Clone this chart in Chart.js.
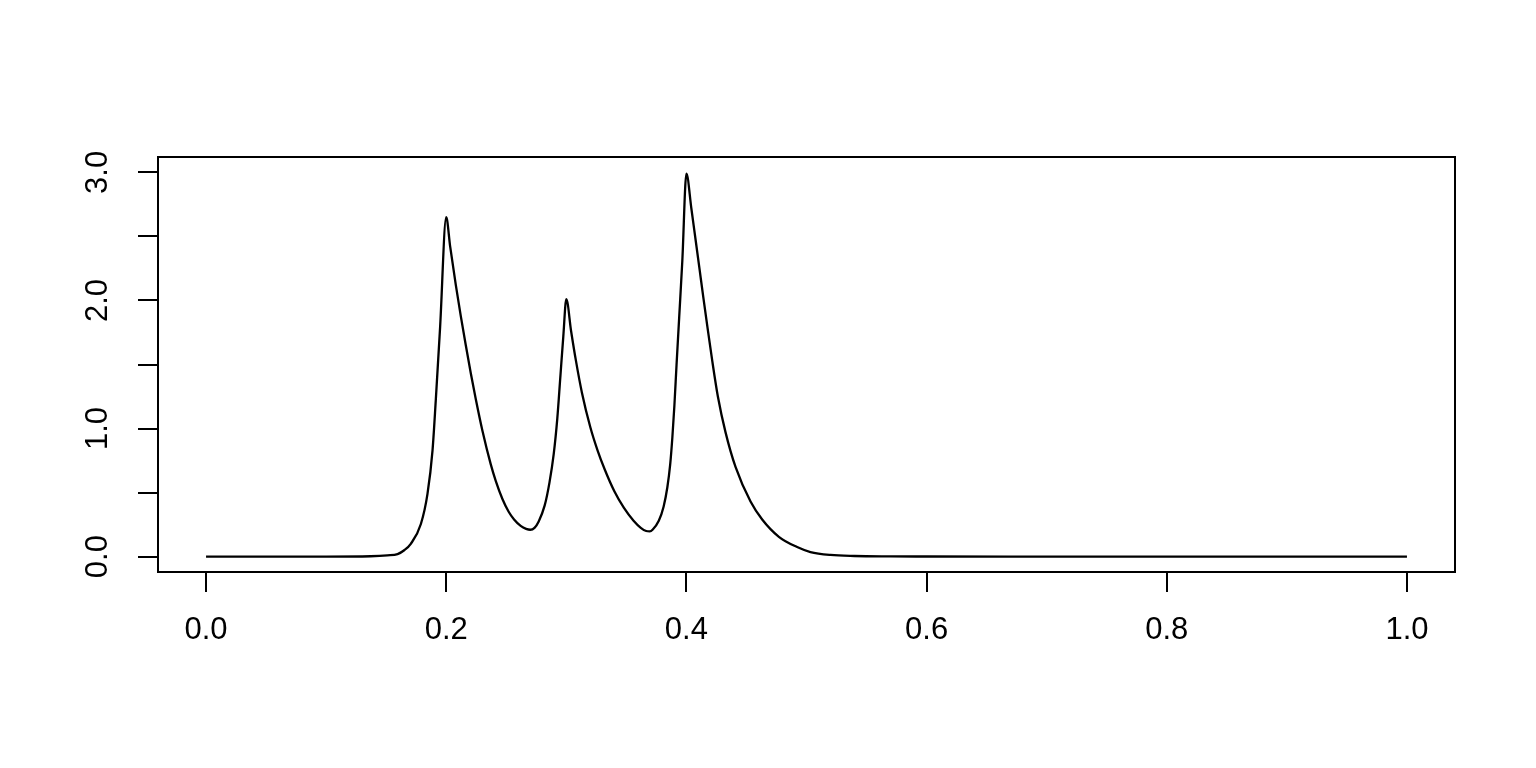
<!DOCTYPE html>
<html>
<head>
<meta charset="utf-8">
<script src="https://cdn.jsdelivr.net/npm/chart.js@4.4.0/dist/chart.umd.min.js"></script>
<style>
  html, body { margin: 0; padding: 0; background: #ffffff; }
  canvas { display: block; }
</style>
</head>
<body>
<canvas id="plot" width="1536" height="768"></canvas>
<script>
// --- Curve (x, y) ---
const xValues = [
  0.000, 0.050, 0.100, 0.137, 0.151, 0.1595, 0.165, 0.1705, 0.1789, 0.1844, 0.1886, 0.1913, 0.1949, 0.2000,
  0.2033, 0.2080, 0.2121, 0.2163, 0.2205, 0.2246, 0.2302, 0.2371, 0.2413, 0.2468, 0.2520, 0.2565, 0.2620, 0.2665, 0.2700,
  0.2735, 0.2770, 0.2820, 0.2860, 0.2895, 0.2925, 0.2950, 0.2975, 0.3000,
  0.3040, 0.3080, 0.3130, 0.3200, 0.3260, 0.3320, 0.3400, 0.3480, 0.3560, 0.3620, 0.3665, 0.3695,
  0.3720, 0.3770, 0.3810, 0.3841, 0.3865, 0.3883, 0.3900, 0.3918, 0.3940, 0.3966, 0.4000,
  0.4041, 0.4077, 0.4110, 0.4140, 0.4174, 0.4215, 0.4262, 0.4326, 0.4409, 0.4534, 0.4631, 0.4770,
  0.4922, 0.5033, 0.5200, 0.5400, 0.5700, 0.6000, 0.7000, 0.8000, 0.9000, 1.0000
];
const yValues = [
  0.000, 0.000, 0.000, 0.003, 0.010, 0.020, 0.050, 0.100, 0.255, 0.490, 0.830, 1.220, 1.790, 2.650,
  2.420, 2.120, 1.880, 1.650, 1.430, 1.230, 0.980, 0.720, 0.590, 0.450, 0.350, 0.290, 0.240, 0.217, 0.210,
  0.225, 0.275, 0.400, 0.580, 0.800, 1.080, 1.400, 1.720, 2.010,
  1.760, 1.530, 1.280, 1.010, 0.830, 0.680, 0.510, 0.380, 0.280, 0.225, 0.200, 0.197,
  0.212, 0.280, 0.390, 0.540, 0.720, 0.930, 1.180, 1.500, 1.870, 2.310, 2.990,
  2.720, 2.470, 2.240, 2.030, 1.800, 1.530, 1.250, 0.970, 0.700, 0.430, 0.290, 0.155,
  0.075, 0.036, 0.013, 0.005, 0.002, 0.001, 0.000, 0.000, 0.000, 0.000
];

// --- Axis ticks ---
const xTicks = [0.0, 0.2, 0.4, 0.6, 0.8, 1.0];
const yTicks = [0.0, 0.5, 1.0, 1.5, 2.0, 2.5, 3.0];
const yLabelTicks = [0.0, 1.0, 2.0, 3.0];

const FONT_FAMILY = "'Liberation Sans', Arial, Helvetica, sans-serif";
const FONT_SIZE = 31;

// Box round the plot region and rotated y labels, R style
const rFramePlugin = {
  id: 'rFrame',
  afterDraw(chart) {
    const { ctx, chartArea } = chart;
    const yScale = chart.scales.y;
    ctx.save();
    ctx.strokeStyle = '#000000';
    ctx.lineWidth = 2;
    ctx.strokeRect(chartArea.left, chartArea.top,
                   chartArea.right - chartArea.left, chartArea.bottom - chartArea.top);

    ctx.fillStyle = '#000000';
    ctx.font = FONT_SIZE + 'px ' + FONT_FAMILY;
    ctx.textAlign = 'center';
    ctx.textBaseline = 'middle';
    yLabelTicks.forEach(v => {
      const py = yScale.getPixelForValue(v);
      ctx.save();
      ctx.translate(chartArea.left - 60, py);
      ctx.rotate(-Math.PI / 2);
      ctx.fillText(v.toFixed(1), 0, 0);
      ctx.restore();
    });
    ctx.restore();
  }
};

const points = xValues.map((x, i) => ({ x: x, y: yValues[i] }));

new Chart(document.getElementById('plot').getContext('2d'), {
  type: 'line',
  data: {
    datasets: [{
      data: points,
      borderColor: '#000000',
      borderWidth: 2.3,
      pointRadius: 0,
      fill: false,
      cubicInterpolationMode: 'monotone'
    }]
  },
  options: {
    responsive: false,
    animation: false,
    layout: { padding: { left: 0, top: 157, right: 81, bottom: 0 } },
    plugins: {
      legend: { display: false },
      title: { display: false },
      tooltip: { enabled: false }
    },
    scales: {
      x: {
        type: 'linear',
        min: -0.04,
        max: 1.04,
        afterBuildTicks: scale => { scale.ticks = xTicks.map(v => ({ value: v })); },
        afterFit: scale => { scale.height = 196; },
        border: { display: false },
        grid: {
          drawOnChartArea: false,
          drawTicks: true,
          tickLength: 20,
          color: '#000000',
          lineWidth: 2
        },
        ticks: {
          color: '#000000',
          padding: 20,
          maxRotation: 0,
          autoSkip: false,
          font: { family: FONT_FAMILY, size: FONT_SIZE },
          callback: v => Number(v).toFixed(1)
        }
      },
      y: {
        type: 'linear',
        min: -0.12,
        max: 3.12,
        afterBuildTicks: scale => { scale.ticks = yTicks.map(v => ({ value: v })); },
        afterFit: scale => { scale.width = 158; },
        border: { display: false },
        grid: {
          drawOnChartArea: false,
          drawTicks: true,
          tickLength: 20,
          color: '#000000',
          lineWidth: 2
        },
        ticks: { display: false }
      }
    }
  },
  plugins: [rFramePlugin]
});
</script>
</body>
</html>
